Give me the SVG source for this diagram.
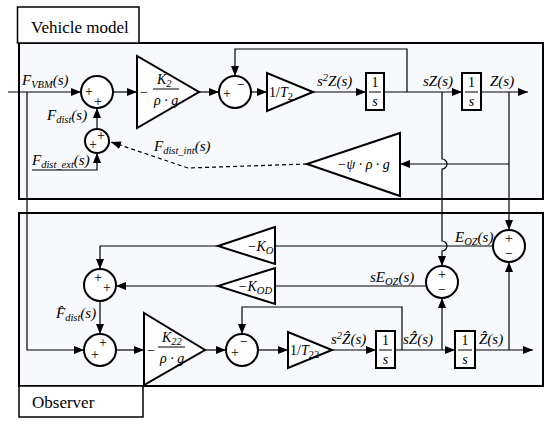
<svg xmlns="http://www.w3.org/2000/svg" width="550" height="424" viewBox="0 0 550 424">
<defs>
<marker id="ah" viewBox="0 0 10 8" refX="10" refY="4" markerWidth="10" markerHeight="8" markerUnits="userSpaceOnUse" orient="auto"><path d="M0,0 L10,4 L0,8 Z" fill="#000"/></marker>
<style>
.box{fill:#f7f9fc;stroke:#000;stroke-width:2}
.tab{fill:#fff;stroke:#000;stroke-width:1.5}
.wb{fill:#fff;stroke:#000;stroke-width:2}
.ln{fill:none;stroke:#000;stroke-width:1.2}
.ar{fill:none;stroke:#000;stroke-width:1.2;marker-end:url(#ah)}
.ds{fill:none;stroke:#000;stroke-width:1.2;stroke-dasharray:4,3;marker-end:url(#ah)}
.t{font-family:"Liberation Serif",serif;font-size:17px}
.m{font-family:"Liberation Serif",serif;font-style:italic;font-size:14px}
.l{font-family:"Liberation Serif",serif;font-style:italic;font-size:15px}
.mu{font-family:"Liberation Serif",serif;font-size:14px}
.sg{font-family:"Liberation Serif",serif;font-size:14px;text-anchor:middle}
.sub{font-size:10.5px}
</style>
</defs>
<rect width="550" height="424" fill="#fff"/>
<g id="vehicle-model">
<rect class="box" x="19" y="43" width="524" height="156"/>
<rect class="tab" x="17.5" y="7" width="121.5" height="36"/>
<text class="t" x="31" y="33">Vehicle model</text>
</g>
<g id="observer">
<rect class="box" x="19" y="213" width="524" height="173"/>
<rect class="tab" x="19" y="386" width="124" height="31"/>
<text class="t" x="32" y="408">Observer</text>
</g>
<g id="connectors">
<path class="ar" d="M8,92 H81"/>
<path class="ar" d="M27,92 V350 H84"/>
<path class="ar" d="M113,92 H137"/>
<path class="ar" d="M199,92 H219"/>
<path class="ar" d="M251,92 H267"/>
<path class="ar" d="M313,92 H366"/>
<path class="ar" d="M384,92 H462"/>
<path class="ar" d="M407,92 V49 H235 V76"/>
<path class="ar" d="M481,92 H528"/>
<path class="ar" d="M442,92 V159 A5,5 0 0 1 442,169 V241 A5,5 0 0 1 442,251 V266"/>
<path class="ar" d="M509,92 V230"/>
<path class="ar" d="M509,164 H400"/>
<path class="ds" d="M307,164 L188,168 L111,142"/>
<path class="ar" d="M97,129 V108"/>
<path class="ar" d="M32,170 H97 V153"/>
<path class="ln" d="M493,246 H275"/>
<path class="ar" d="M218,246 H100 V269"/>
<path class="ln" d="M426,286 H275"/>
<path class="ar" d="M218,286 H116"/>
<path class="ar" d="M100,301 V334"/>
<path class="ar" d="M116,350 H144"/>
<path class="ar" d="M205,350 H226"/>
<path class="ar" d="M258,350 H288"/>
<path class="ar" d="M332,350 H376"/>
<path class="ar" d="M395,350 H455"/>
<path class="ar" d="M475,350 H533"/>
<path class="ar" d="M402,350 V307 H242 V334"/>
<path class="ar" d="M442,350 V298"/>
<path class="ar" d="M509,350 V262"/>
</g>
<g id="sum1"><circle class="wb" cx="97" cy="92" r="16"/><text class="sg" x="89" y="96">+</text><text class="sg" x="98" y="106">+</text></g>
<g id="gain-k2"><polygon class="wb" points="137,56 137,128 199,92"/>
<text class="mu" x="140" y="97">−</text><text class="m" x="157" y="84">K<tspan class="sub" dy="3">2</tspan></text>
<line x1="153" y1="89" x2="179" y2="89" stroke="#000" stroke-width="1"/><text class="m" x="154" y="105">ρ · g</text></g>
<g id="sum2"><circle class="wb" cx="235" cy="92" r="16"/><text class="sg" x="227" y="98">+</text><text class="sg" x="241" y="89">−</text></g>
<g id="gain-t2"><polygon class="wb" points="267,73 267,111 313,92"/><text class="mu" x="269" y="97">1/<tspan font-style="italic">T</tspan><tspan class="sub" dy="3">2</tspan></text></g>
<g id="int1"><rect class="wb" x="366" y="73" width="18" height="37"/><text class="mu" x="375" y="87" text-anchor="middle">1</text><line x1="369" y1="92" x2="381" y2="92" stroke="#000" stroke-width="1"/><text class="m" x="375" y="106" text-anchor="middle">s</text></g>
<g id="int2"><rect class="wb" x="462" y="73" width="19" height="37"/><text class="mu" x="471.5" y="87" text-anchor="middle">1</text><line x1="465" y1="92" x2="478" y2="92" stroke="#000" stroke-width="1"/><text class="m" x="471.5" y="106" text-anchor="middle">s</text></g>
<g id="sum3"><circle class="wb" cx="97" cy="141" r="12"/><text class="sg" x="101" y="140">+</text><text class="sg" x="93" y="149">+</text></g>
<g id="gain-psi"><polygon class="wb" points="400,133 400,196 307,164"/><text class="m" x="337" y="169">−ψ · ρ · g</text></g>
<g id="sum-eoz"><circle class="wb" cx="509" cy="246" r="16"/><text class="sg" x="509" y="243">+</text><text class="sg" x="509" y="258">−</text></g>
<g id="sum-seoz"><circle class="wb" cx="442" cy="282" r="16"/><text class="sg" x="442" y="279">+</text><text class="sg" x="442" y="294">−</text></g>
<g id="gain-ko"><polygon class="wb" points="275,227 275,264 218,246"/><text class="m" x="247" y="251">−K<tspan class="sub" dy="3">O</tspan></text></g>
<g id="gain-kod"><polygon class="wb" points="275,268 275,304 218,286"/><text class="m" x="238" y="291">−K<tspan class="sub" dy="3">OD</tspan></text></g>
<g id="sum4"><circle class="wb" cx="100" cy="285" r="16"/><text class="sg" x="98" y="282">+</text><text class="sg" x="107" y="292">+</text></g>
<g id="sum5"><circle class="wb" cx="100" cy="350" r="16"/><text class="sg" x="103" y="347">+</text><text class="sg" x="95" y="359">+</text></g>
<g id="gain-k22"><polygon class="wb" points="144,313 144,385 205,350"/>
<text class="mu" x="147" y="355">−</text><text class="m" x="162" y="342">K<tspan class="sub" dy="3">22</tspan></text>
<line x1="158" y1="347" x2="185" y2="347" stroke="#000" stroke-width="1"/><text class="m" x="160" y="363">ρ · g</text></g>
<g id="sum8"><circle class="wb" cx="242" cy="350" r="16"/><text class="sg" x="244" y="346">−</text><text class="sg" x="235" y="357">+</text></g>
<g id="gain-t22"><polygon class="wb" points="288,332 288,368 332,350"/><text class="mu" x="290" y="355">1/<tspan font-style="italic">T</tspan><tspan class="sub" dy="3">22</tspan></text></g>
<g id="int3"><rect class="wb" x="376" y="331" width="19" height="37"/><text class="mu" x="385.5" y="345" text-anchor="middle">1</text><line x1="379" y1="350" x2="392" y2="350" stroke="#000" stroke-width="1"/><text class="m" x="385.5" y="364" text-anchor="middle">s</text></g>
<g id="int4"><rect class="wb" x="455" y="331" width="20" height="37"/><text class="mu" x="465" y="345" text-anchor="middle">1</text><line x1="458" y1="350" x2="472" y2="350" stroke="#000" stroke-width="1"/><text class="m" x="465" y="364" text-anchor="middle">s</text></g>
<g id="labels">
<text class="l" x="22" y="85">F<tspan class="sub" dy="3">VBM</tspan><tspan dy="-3">(s)</tspan></text>
<text class="l" x="47" y="120">F<tspan class="sub" dy="3">dist</tspan><tspan dy="-3">(s)</tspan></text>
<text class="l" x="32" y="165">F<tspan class="sub" dy="3">dist_ext</tspan><tspan dy="-3">(s)</tspan></text>
<text class="l" x="154" y="151">F<tspan class="sub" dy="3">dist_int</tspan><tspan dy="-3">(s)</tspan></text>
<text class="l" x="317" y="86">s<tspan class="sub" dy="-5">2</tspan><tspan dy="5">Z(s)</tspan></text>
<text class="l" x="423" y="86">sZ(s)</text>
<text class="l" x="490" y="86">Z(s)</text>
<text class="l" x="455" y="242">E<tspan class="sub" dy="3">OZ</tspan><tspan dy="-3">(s)</tspan></text>
<text class="l" x="370" y="282">sE<tspan class="sub" dy="3">OZ</tspan><tspan dy="-3">(s)</tspan></text>
<text class="l" x="56" y="318">F̂<tspan class="sub" dy="3">dist</tspan><tspan dy="-3">(s)</tspan></text>
<text class="l" x="331" y="344">s<tspan class="sub" dy="-5">2</tspan><tspan dy="5">Ẑ(s)</tspan></text>
<text class="l" x="403" y="344">sẐ(s)</text>
<text class="l" x="479" y="344">Ẑ(s)</text>
</g>
</svg>
